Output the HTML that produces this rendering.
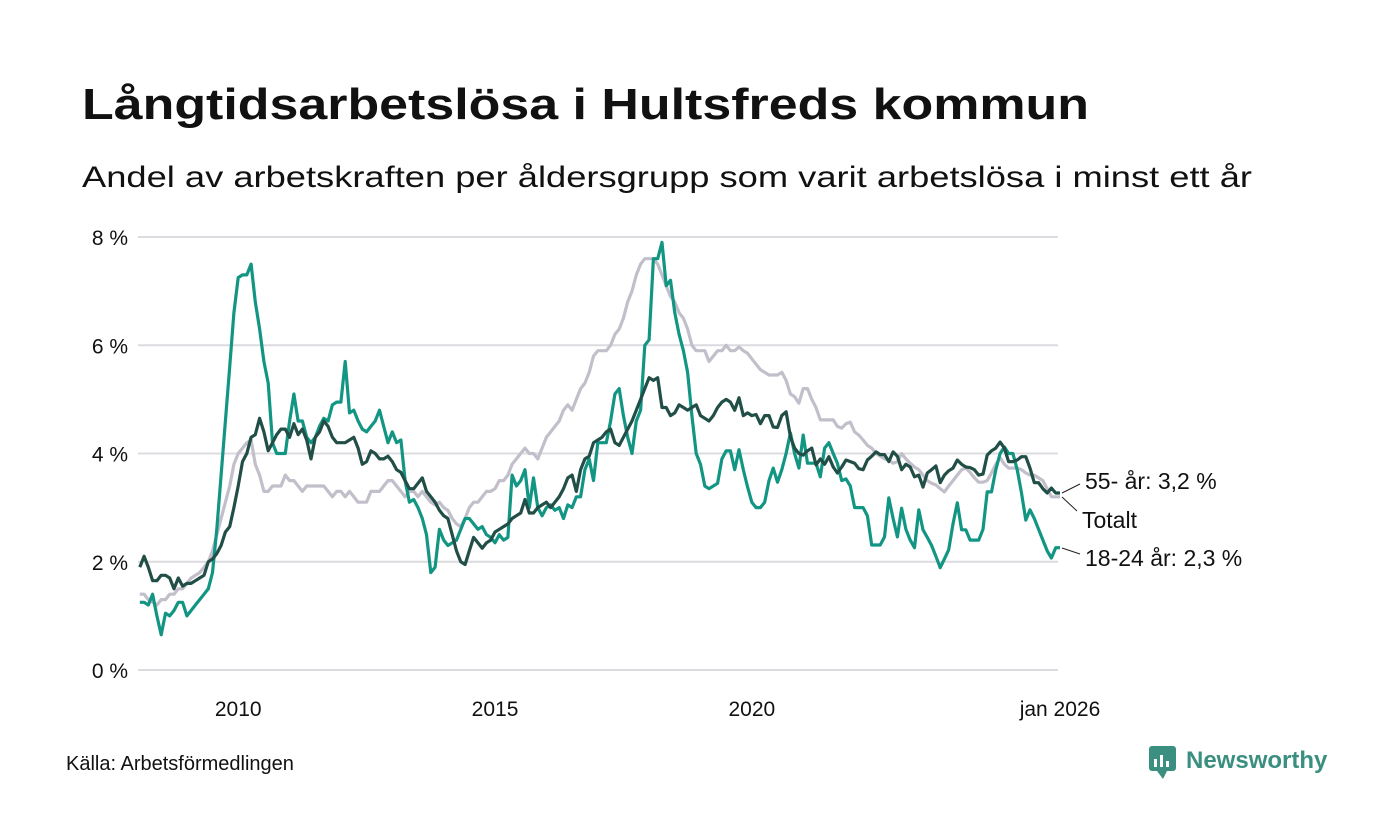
<!DOCTYPE html>
<html><head><meta charset="utf-8"><style>
html,body{margin:0;padding:0;background:#fff;}
svg{display:block;font-family:"Liberation Sans","DejaVu Sans",sans-serif;}
</style></head><body>
<svg id="chart" width="1400" height="840" viewBox="0 0 1400 840">
<text x="82" y="119" font-size="44" font-weight="bold" fill="#111" textLength="1007" lengthAdjust="spacingAndGlyphs">Långtidsarbetslösa i Hultsfreds kommun</text>
<text x="82" y="187" font-size="30" fill="#111" textLength="1170" lengthAdjust="spacingAndGlyphs">Andel av arbetskraften per åldersgrupp som varit arbetslösa i minst ett år</text>
<g id="grid"></g>
<g id="series"></g>
<g id="labels">
<text x="1085" y="489" font-size="23" fill="#111">55- år: 3,2 %</text>
<text x="1082" y="528" font-size="23" fill="#111">Totalt</text>
<text x="1085" y="566" font-size="23" fill="#111">18-24 år: 2,3 %</text>
<path d="M1062 493 L1080 484 M1062 497 L1077 511 M1062 548 L1080 554" stroke="#222" stroke-width="1" fill="none"/>
</g>
<text x="66" y="770" font-size="20" fill="#111">Källa: Arbetsförmedlingen</text>
<g>
<rect x="1149" y="746" width="27" height="25" rx="3" fill="#3a8f80"/>
<path d="M1157 771 L1163 779 L1167 771 Z" fill="#3a8f80"/>
<rect x="1154" y="759" width="3" height="8" fill="#fff"/><rect x="1160" y="755" width="3" height="12" fill="#fff"/><rect x="1166" y="761" width="3" height="6" fill="#fff"/>
<text x="1186" y="768" font-size="24" font-weight="bold" fill="#3a8f80">Newsworthy</text>
</g>
</svg>
<script>
const yTicks = [0, 2, 4, 6, 8];
const yTickLabels = ["0 %", "2 %", "4 %", "6 %", "8 %"];
const xTicks = [24, 84, 144, 216];
const xTickLabels = ["2010", "2015", "2020", "jan 2026"];
const startMonth = 1;
const youth = [1.25,1.25,1.2,1.4,1.0,0.65,1.05,1.0,1.1,1.25,1.25,1.0,
1.1,1.2,1.3,1.4,1.5,1.8,2.6,3.6,4.6,5.6,6.6,7.25,
7.3,7.3,7.5,6.8,6.3,5.7,5.3,4.2,4.0,4.0,4.0,4.6,
5.1,4.6,4.6,4.3,4.2,4.3,4.5,4.65,4.6,4.9,4.95,4.95,
5.7,4.75,4.8,4.6,4.45,4.4,4.5,4.6,4.8,4.5,4.2,4.4,
4.2,4.25,3.5,3.1,3.15,3.0,2.8,2.5,1.8,1.9,2.6,2.4,
2.3,2.35,2.4,2.6,2.8,2.8,2.7,2.6,2.65,2.5,2.45,2.35,
2.5,2.4,2.45,3.6,3.4,3.5,3.7,3.0,3.55,3.0,2.85,3.0,
3.05,2.95,3.0,2.8,3.05,3.0,3.2,3.2,3.7,3.9,3.5,4.2,
4.2,4.2,4.6,5.1,5.2,4.7,4.3,4.0,4.6,4.8,6.0,6.1,
7.6,7.6,7.9,7.1,7.2,6.6,6.2,5.9,5.5,4.7,4.0,3.8,
3.4,3.35,3.4,3.45,3.9,4.05,4.05,3.7,
4.07,3.7,3.38,3.1,3.0,3.0,3.1,3.5,3.73,3.47,3.7,4.0,4.38,4.0,3.73,4.34,3.82,3.82,3.82,3.57,4.1,4.2,4.0,3.82,3.5,3.53,3.4,3.0,3.0,3.0,2.85,2.31,2.31,2.31,2.46,3.18,2.8,2.46,2.99,2.6,2.4,2.26,2.96,2.59,2.45,2.3,2.1,1.89,2.05,2.22,2.7,3.09,2.59,2.59,2.4,2.4,2.4,2.6,3.29,3.29,3.7,4.0,4.12,4.0,4.0,3.7,3.27,2.77,2.96,2.8,2.6,2.4,2.2,2.07,2.26,2.26];
const total = [1.9,2.1,1.9,1.65,1.65,1.75,1.75,1.7,1.5,1.7,1.55,1.6,
1.6,1.65,1.7,1.75,2.0,2.05,2.15,2.3,2.55,2.65,3.0,3.4,
3.85,4.0,4.3,4.35,4.65,4.4,4.05,4.2,4.35,4.45,4.45,4.3,
4.55,4.35,4.45,4.25,3.9,4.3,4.4,4.6,4.5,4.3,4.2,4.2,
4.2,4.25,4.3,4.1,3.8,3.85,4.05,4.0,3.9,3.9,3.95,3.85,
3.7,3.65,3.5,3.35,3.35,3.45,3.55,3.3,3.2,3.1,2.95,2.85,
2.8,2.5,2.2,2.0,1.95,2.2,2.45,2.35,2.25,2.35,2.4,2.55,
2.6,2.65,2.7,2.8,2.85,2.9,3.15,2.9,2.9,3.0,3.05,3.1,
3.0,3.1,3.2,3.35,3.55,3.6,3.3,3.7,3.9,3.95,4.2,4.25,
4.3,4.4,4.45,4.2,4.15,4.3,4.45,4.6,4.8,5.0,5.2,5.4,
5.35,5.4,4.85,4.85,4.7,4.75,4.9,4.85,4.8,4.85,4.9,4.7,
4.65,4.6,4.7,4.85,4.95,5.0,4.95,4.8,
5.03,4.7,4.75,4.7,4.72,4.55,4.7,4.7,4.49,4.48,4.7,4.77,4.31,4.1,4.0,3.97,4.05,4.1,3.79,3.9,3.8,3.94,3.75,3.64,3.75,3.88,3.85,3.82,3.72,3.7,3.88,3.95,4.03,3.98,3.98,3.85,4.03,3.95,3.7,3.8,3.75,3.57,3.6,3.38,3.64,3.7,3.77,3.46,3.6,3.68,3.73,3.88,3.8,3.75,3.74,3.7,3.6,3.62,3.97,4.05,4.1,4.21,4.1,3.85,3.85,3.88,3.94,3.94,3.73,3.46,3.46,3.35,3.27,3.36,3.27,3.27];
const senior = [1.4,1.4,1.3,1.25,1.2,1.3,1.3,1.4,1.4,1.5,1.5,1.6,
1.7,1.75,1.8,1.9,2.0,2.2,2.5,2.8,3.1,3.4,3.8,4.0,
4.1,4.2,4.25,3.8,3.6,3.3,3.3,3.4,3.4,3.4,3.6,3.5,
3.5,3.4,3.3,3.4,3.4,3.4,3.4,3.4,3.3,3.2,3.3,3.3,
3.2,3.3,3.2,3.1,3.1,3.1,3.3,3.3,3.3,3.4,3.5,3.5,
3.4,3.3,3.2,3.3,3.3,3.2,3.3,3.2,3.1,3.05,3.1,3.0,
2.95,2.8,2.7,2.65,2.8,3.0,3.1,3.1,3.2,3.3,3.3,3.35,
3.5,3.5,3.6,3.8,3.9,4.0,4.1,4.0,4.0,3.9,4.1,4.3,
4.4,4.5,4.6,4.8,4.9,4.8,5.0,5.2,5.3,5.5,5.8,5.9,
5.9,5.9,6.0,6.2,6.3,6.5,6.8,7.0,7.3,7.5,7.6,7.6,
7.6,7.5,7.3,7.1,6.9,6.8,6.6,6.5,6.3,6.0,5.9,5.9,
5.9,5.7,5.8,5.9,5.9,6.0,5.9,5.9,
5.97,5.9,5.85,5.75,5.65,5.55,5.5,5.45,5.45,5.45,5.5,5.35,5.1,5.05,4.93,5.2,5.2,5.0,4.85,4.62,4.62,4.62,4.62,4.5,4.47,4.55,4.58,4.4,4.34,4.25,4.15,4.1,4.0,3.95,3.9,3.88,3.82,3.85,4.0,3.9,3.82,3.75,3.7,3.6,3.5,3.45,3.42,3.35,3.29,3.4,3.5,3.6,3.7,3.73,3.65,3.55,3.47,3.47,3.5,3.64,3.8,3.92,3.8,3.73,3.73,3.73,3.7,3.64,3.6,3.6,3.55,3.5,3.35,3.2,3.2,3.2];

const NS = "http://www.w3.org/2000/svg";
function xScale(m){ return 135.5 + m * (1060 - 135.5) / 216; }
function yScale(v){ return 670 - v * (670 - 237) / 8; }
const grid = document.getElementById('grid');
yTicks.forEach((t, i) => {
  const l = document.createElementNS(NS, 'line');
  l.setAttribute('x1', 138); l.setAttribute('x2', 1058);
  l.setAttribute('y1', yScale(t)); l.setAttribute('y2', yScale(t));
  l.setAttribute('stroke', '#dcdce0'); l.setAttribute('stroke-width', 2);
  
  
  grid.appendChild(l);
  const tx = document.createElementNS(NS, 'text');
  tx.setAttribute('x', 128); tx.setAttribute('y', yScale(t) + 8);
  tx.setAttribute('text-anchor', 'end'); tx.setAttribute('font-size', 21); tx.setAttribute('fill', '#111');
  tx.textContent = yTickLabels[i];
  
  
  grid.appendChild(tx);
});
xTicks.forEach((m, i) => {
  const tx = document.createElementNS(NS, 'text');
  tx.setAttribute('x', xScale(m)); tx.setAttribute('y', 716);
  tx.setAttribute('text-anchor', 'middle'); tx.setAttribute('font-size', 21); tx.setAttribute('fill', '#111');
  tx.textContent = xTickLabels[i];
  
  
  grid.appendChild(tx);
});
const g = document.getElementById('series');
function drawLine(vals, color, name){
  const d = vals.map((v, i) => (i ? 'L' : 'M') + xScale(startMonth + i).toFixed(1) + ' ' + yScale(v).toFixed(1)).join(' ');
  const p = document.createElementNS(NS, 'path');
  p.setAttribute('d', d); p.setAttribute('fill', 'none'); p.setAttribute('stroke', color);
  p.setAttribute('stroke-width', 3.2); p.setAttribute('stroke-linejoin', 'round');
  
  
  g.appendChild(p);
}
drawLine(senior, '#c2bfcb', 'line-55-plus');
drawLine(youth, '#139583', 'line-18-24');
drawLine(total, '#214e46', 'line-totalt');
</script>
</body></html>
